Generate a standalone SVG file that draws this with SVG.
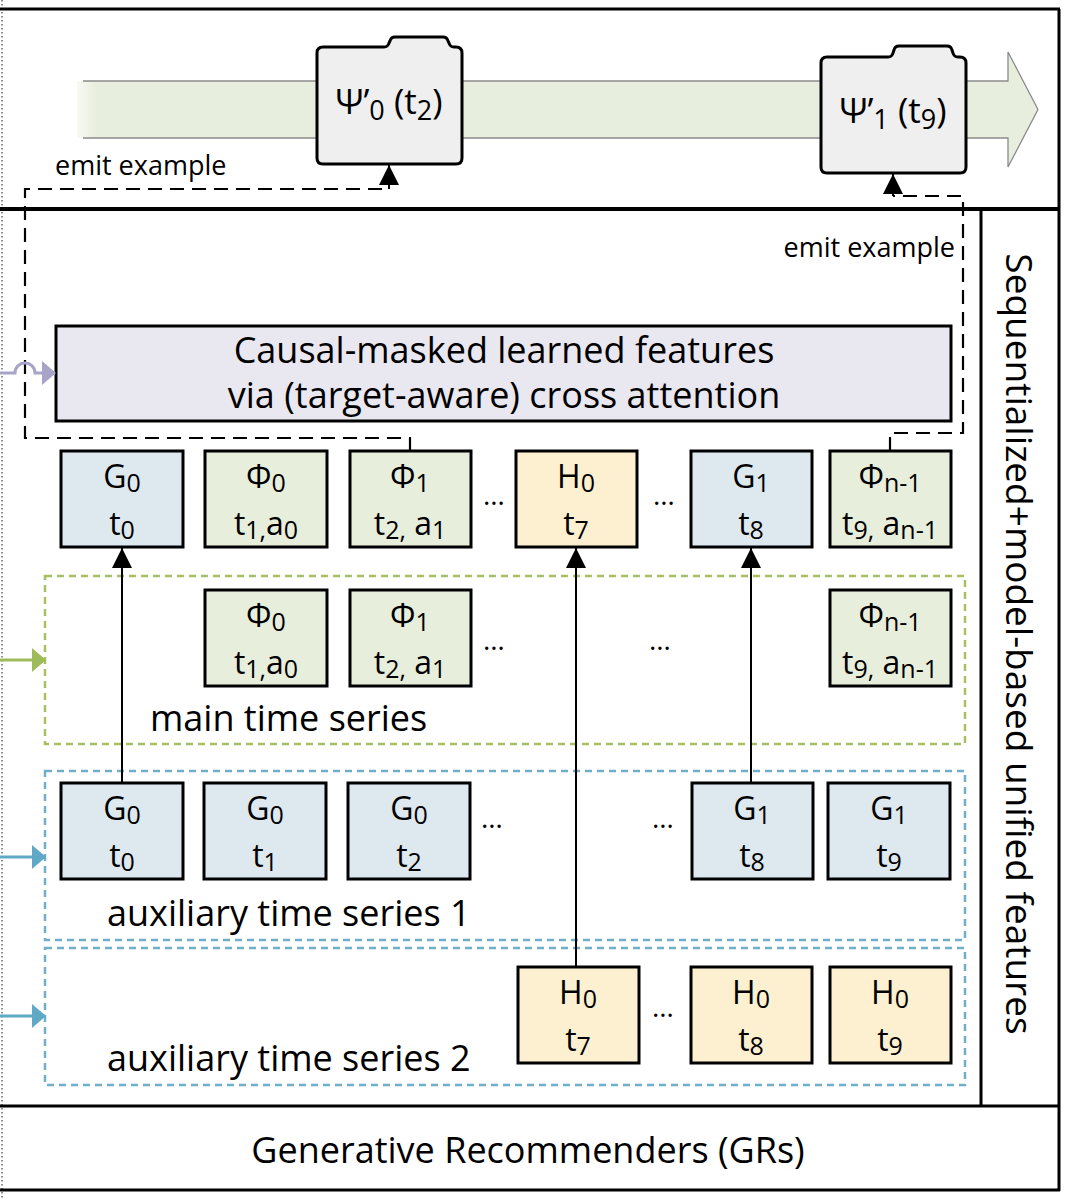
<svg xmlns="http://www.w3.org/2000/svg" width="1071" height="1200" viewBox="0 0 1071 1200">
<style>
text{font-family:"Open Sans","Noto Sans","DejaVu Sans",sans-serif;fill:#000}
.bt{font-size:32px;text-anchor:middle}
.sb{font-size:25px}
.pt{font-size:35px;text-anchor:middle}
.psb{font-size:27px}
.box{stroke:#000;stroke-width:3}
.blue{fill:#dde9ef}
.green{fill:#e8eedc}
.yel{fill:#fdf0d0}
.frame{stroke:#000;stroke-width:3;fill:none}
.dash{stroke:#000;stroke-width:2.2;fill:none;stroke-dasharray:14 8}
.solid{stroke:#000;stroke-width:2;fill:none}
.lbl{font-size:36px}
.emit{font-size:27px}
.dots{font-size:28px;text-anchor:middle}
</style>
<defs>
<linearGradient id="bandg" x1="0" x2="1" y1="0" y2="0">
<stop offset="0" stop-color="#e8eedd" stop-opacity="0.3"/>
<stop offset="0.02" stop-color="#e8eedd"/>
<stop offset="1" stop-color="#e8eedd"/>
</linearGradient>
<marker id="ah" markerWidth="20" markerHeight="20" refX="20" refY="10" orient="auto" markerUnits="userSpaceOnUse"><path d="M0,0 L20,10 L0,20 Z" fill="#000"/></marker>
<marker id="ahg" markerWidth="14" markerHeight="24" refX="13" refY="12" orient="auto" markerUnits="userSpaceOnUse"><path d="M0,0 L14,12 L0,24 Z" fill="#9dbb58"/></marker>
<marker id="ahb" markerWidth="14" markerHeight="24" refX="13" refY="12" orient="auto" markerUnits="userSpaceOnUse"><path d="M0,0 L14,12 L0,24 Z" fill="#5fa8c6"/></marker>
<marker id="ahp" markerWidth="14" markerHeight="24" refX="13" refY="12" orient="auto" markerUnits="userSpaceOnUse"><path d="M0,0 L14,12 L0,24 Z" fill="#a8a4c8"/></marker>
</defs>

<!-- frame -->
<g id="frame">
<line x1="2" y1="0" x2="2" y2="1200" stroke="#444" stroke-width="1.2" stroke-dasharray="1.5 2.5"/>
<line class="frame" x1="0" y1="9" x2="1060" y2="9"/>
<line class="frame" x1="1059" y1="9" x2="1059" y2="1191"/>
<line x1="0" y1="209" x2="1060" y2="209" stroke="#000" stroke-width="4"/>
<line class="frame" x1="0" y1="1106" x2="1060" y2="1106"/>
<line class="frame" x1="0" y1="1190" x2="1060" y2="1190"/>
<line class="frame" x1="981" y1="209" x2="981" y2="1106"/>
</g>

<!-- timeline band -->
<g id="band">
<path d="M77,81 L1008,81 L1008,52 L1038,109.5 L1008,167 L1008,138 L77,138 Z" fill="url(#bandg)"/>
<path d="M83,81 L1008,81 L1008,52 L1038,109.5 L1008,167 L1008,138 L83,138" fill="none" stroke="#8a8a8a" stroke-width="1.3"/>
</g>

<g id="psi0">
<path d="M323,47 L384,47 Q388,47 389,43 L390,41 Q391,37 395,37 L443,37 Q447,37 448,41 L449,43 Q450,47 454,47 L456,47 Q462,47 462,53 L462,158 Q462,164 456,164 L323,164 Q317,164 317,158 L317,53 Q317,47 323,47 Z" fill="#efefef" stroke="#000" stroke-width="3"/>
<text class="pt" x="389" y="114">Ψ’<tspan class="psb" dy="6">0</tspan><tspan dy="-6"> (t</tspan><tspan class="psb" dy="6">2</tspan><tspan dy="-6">)</tspan></text>
</g>
<g id="psi1">
<path d="M827,57 L888,57 Q892,57 893,53 L894,50 Q895,46 899,46 L947,46 Q951,46 952,50 L953,53 Q954,57 958,57 L960,57 Q966,57 966,63 L966,167 Q966,173 960,173 L827,173 Q821,173 821,167 L821,63 Q821,57 827,57 Z" fill="#efefef" stroke="#000" stroke-width="3"/>
<text class="pt" x="893" y="123">Ψ’<tspan class="psb" dy="6">1</tspan><tspan dy="-6"> (t</tspan><tspan class="psb" dy="6">9</tspan><tspan dy="-6">)</tspan></text>
</g>

<text class="emit" x="55" y="175">emit example</text>
<text class="emit" x="955" y="257" text-anchor="end">emit example</text>

<!-- causal box -->
<g id="causal">
<rect x="56" y="326" width="895" height="95" fill="#e9e7ef" stroke="#000" stroke-width="3"/>
<text x="504" y="363" font-size="36" text-anchor="middle">Causal-masked learned features</text>
<text x="504" y="408" font-size="36" text-anchor="middle">via (target-aware) cross attention</text>
</g>

<!-- series containers -->
<g id="main_series">
<rect x="45" y="576" width="920" height="168" fill="none" stroke="#a8c060" stroke-width="2.5" stroke-dasharray="7 5"/>
<text class="lbl" x="150" y="731">main time series</text>
</g>
<g id="aux_series_1">
<rect x="45" y="771" width="920" height="169" fill="none" stroke="#6fb0c8" stroke-width="2.5" stroke-dasharray="7 5"/>
<text class="lbl" x="107" y="926">auxiliary time series 1</text>
</g>
<g id="aux_series_2">
<rect x="45" y="948" width="920" height="137" fill="none" stroke="#6fb0c8" stroke-width="2.5" stroke-dasharray="7 5"/>
<text class="lbl" x="107" y="1071">auxiliary time series 2</text>
</g>

<!-- row 1 (unified sequence) -->
<g id="u_g0"><rect class="box blue" x="61" y="451" width="122" height="96"/>
<text class="bt" x="122" y="488">G<tspan class="sb" dy="4">0</tspan><tspan x="122" y="535">t</tspan><tspan class="sb" dy="4">0</tspan></text></g>
<g id="u_phi0"><rect class="box green" x="205" y="451" width="122" height="96"/>
<text class="bt" x="266" y="488">Φ<tspan class="sb" dy="4">0</tspan><tspan x="266" y="535">t</tspan><tspan class="sb" dy="4">1,</tspan><tspan dy="-4">a</tspan><tspan class="sb" dy="4">0</tspan></text></g>
<g id="u_phi1"><rect class="box green" x="350" y="451" width="121" height="96"/>
<text class="bt" x="410" y="488">Φ<tspan class="sb" dy="4">1</tspan><tspan x="410" y="535">t</tspan><tspan class="sb" dy="4">2,</tspan><tspan dy="-4"> a</tspan><tspan class="sb" dy="4">1</tspan></text></g>
<g id="u_h0"><rect class="box yel" x="516" y="451" width="121" height="96"/>
<text class="bt" x="576" y="488">H<tspan class="sb" dy="4">0</tspan><tspan x="576" y="535">t</tspan><tspan class="sb" dy="4">7</tspan></text></g>
<g id="u_g1"><rect class="box blue" x="691" y="451" width="121" height="96"/>
<text class="bt" x="751" y="488">G<tspan class="sb" dy="4">1</tspan><tspan x="751" y="535">t</tspan><tspan class="sb" dy="4">8</tspan></text></g>
<g id="u_phin"><rect class="box green" x="830" y="451" width="121" height="96"/>
<text class="bt" x="890" y="488">Φ<tspan class="sb" dy="4">n-1</tspan><tspan x="890" y="535">t</tspan><tspan class="sb" dy="4">9,</tspan><tspan dy="-4"> a</tspan><tspan class="sb" dy="4">n-1</tspan></text></g>
<text class="dots" x="494" y="505">…</text>
<text class="dots" x="664" y="505">…</text>

<!-- main series boxes -->
<g id="m_phi0"><rect class="box green" x="205" y="590" width="122" height="96"/>
<text class="bt" x="266" y="627">Φ<tspan class="sb" dy="4">0</tspan><tspan x="266" y="674">t</tspan><tspan class="sb" dy="4">1,</tspan><tspan dy="-4">a</tspan><tspan class="sb" dy="4">0</tspan></text></g>
<g id="m_phi1"><rect class="box green" x="350" y="590" width="121" height="96"/>
<text class="bt" x="410" y="627">Φ<tspan class="sb" dy="4">1</tspan><tspan x="410" y="674">t</tspan><tspan class="sb" dy="4">2,</tspan><tspan dy="-4"> a</tspan><tspan class="sb" dy="4">1</tspan></text></g>
<g id="m_phin"><rect class="box green" x="830" y="590" width="121" height="96"/>
<text class="bt" x="890" y="627">Φ<tspan class="sb" dy="4">n-1</tspan><tspan x="890" y="674">t</tspan><tspan class="sb" dy="4">9,</tspan><tspan dy="-4"> a</tspan><tspan class="sb" dy="4">n-1</tspan></text></g>
<text class="dots" x="494" y="650">…</text>
<text class="dots" x="660" y="650">…</text>

<!-- aux 1 boxes -->
<g id="a1_g0t0"><rect class="box blue" x="61" y="783" width="122" height="96"/>
<text class="bt" x="122" y="820">G<tspan class="sb" dy="4">0</tspan><tspan x="122" y="867">t</tspan><tspan class="sb" dy="4">0</tspan></text></g>
<g id="a1_g0t1"><rect class="box blue" x="204" y="783" width="122" height="96"/>
<text class="bt" x="265" y="820">G<tspan class="sb" dy="4">0</tspan><tspan x="265" y="867">t</tspan><tspan class="sb" dy="4">1</tspan></text></g>
<g id="a1_g0t2"><rect class="box blue" x="348" y="783" width="122" height="96"/>
<text class="bt" x="409" y="820">G<tspan class="sb" dy="4">0</tspan><tspan x="409" y="867">t</tspan><tspan class="sb" dy="4">2</tspan></text></g>
<g id="a1_g1t8"><rect class="box blue" x="692" y="783" width="121" height="96"/>
<text class="bt" x="752" y="820">G<tspan class="sb" dy="4">1</tspan><tspan x="752" y="867">t</tspan><tspan class="sb" dy="4">8</tspan></text></g>
<g id="a1_g1t9"><rect class="box blue" x="828" y="783" width="122" height="96"/>
<text class="bt" x="889" y="820">G<tspan class="sb" dy="4">1</tspan><tspan x="889" y="867">t</tspan><tspan class="sb" dy="4">9</tspan></text></g>
<text class="dots" x="492" y="828">…</text>
<text class="dots" x="663" y="828">…</text>

<!-- aux 2 boxes -->
<g id="a2_h0t7"><rect class="box yel" x="518" y="967" width="121" height="96"/>
<text class="bt" x="578" y="1004">H<tspan class="sb" dy="4">0</tspan><tspan x="578" y="1051">t</tspan><tspan class="sb" dy="4">7</tspan></text></g>
<g id="a2_h0t8"><rect class="box yel" x="691" y="967" width="121" height="96"/>
<text class="bt" x="751" y="1004">H<tspan class="sb" dy="4">0</tspan><tspan x="751" y="1051">t</tspan><tspan class="sb" dy="4">8</tspan></text></g>
<g id="a2_h0t9"><rect class="box yel" x="830" y="967" width="121" height="96"/>
<text class="bt" x="890" y="1004">H<tspan class="sb" dy="4">0</tspan><tspan x="890" y="1051">t</tspan><tspan class="sb" dy="4">9</tspan></text></g>
<text class="dots" x="663" y="1017">…</text>

<!-- side labels -->
<text x="1020" y="644" font-size="37" text-anchor="middle" dominant-baseline="central" transform="rotate(90 1020 644)">Sequentialized+model-based unified features</text>
<text x="528" y="1163" font-size="36" text-anchor="middle">Generative Recommenders (GRs)</text>

<!-- connectors -->
<g id="connectors">
<line class="solid" x1="122" y1="783" x2="122" y2="548" marker-end="url(#ah)"/>
<line class="solid" x1="576" y1="967" x2="576" y2="548" marker-end="url(#ah)"/>
<line class="solid" x1="751" y1="783" x2="751" y2="548" marker-end="url(#ah)"/>
<path class="dash" d="M410,451 L410,438 L25,438 L25,189 L389,189"/>
<line class="solid" x1="389" y1="189" x2="389" y2="165" marker-end="url(#ah)"/>
<path class="dash" d="M890,451 L890,433 L963,433 L963,196 L893,196"/>
<line class="solid" x1="893" y1="196" x2="893" y2="174" marker-end="url(#ah)"/>
<path d="M0,373 L15,373 A10,10 0 0 1 35,373 L55,373" fill="none" stroke="#a8a4c8" stroke-width="3" marker-end="url(#ahp)"/>
<line x1="0" y1="660" x2="45" y2="660" stroke="#9dbb58" stroke-width="3" marker-end="url(#ahg)"/>
<line x1="0" y1="857" x2="45" y2="857" stroke="#5fa8c6" stroke-width="3" marker-end="url(#ahb)"/>
<line x1="0" y1="1016" x2="45" y2="1016" stroke="#5fa8c6" stroke-width="3" marker-end="url(#ahb)"/>
</g>
</svg>
